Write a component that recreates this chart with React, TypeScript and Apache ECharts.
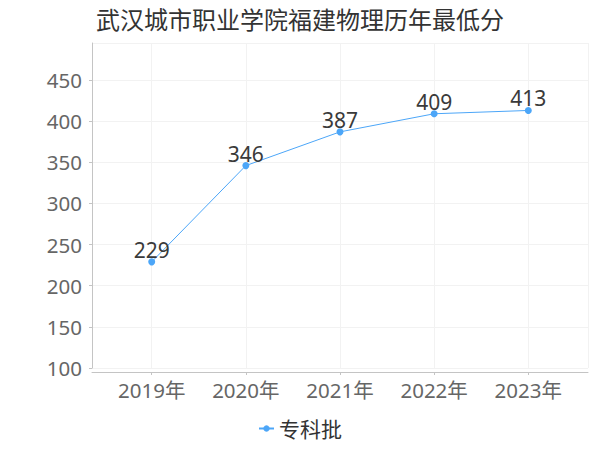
import React, { useEffect, useRef } from "react";
import * as echarts from "echarts";

const title = "武汉城市职业学院福建物理历年最低分";
const years = ["2019年", "2020年", "2021年", "2022年", "2023年"];
const seriesName = "专科批";
const scores = [229, 346, 387, 409, 413];
const yMin = 100;
const yMax = 495;
const yStep = 50;

const FONT = "'Noto Sans', 'Noto Sans CJK SC', sans-serif";
const AXIS_COLOR = "#c4c4c4";
const SPLIT_COLOR = "#f2f2f2";
const LINE_COLOR = "#4ca6f8";

export default function App() {
  const ref = useRef<HTMLDivElement>(null);
  useEffect(() => {
    document.body.style.margin = "0";
    if (!ref.current) return;
    const chart = echarts.init(ref.current, undefined, { renderer: "svg" });
    chart.setOption({
      animation: false,
      backgroundColor: "#ffffff",
      textStyle: { fontFamily: FONT },
      title: {
        text: title,
        left: "center",
        top: 2,
        textStyle: { fontSize: 24, fontWeight: "normal", color: "#333", fontFamily: FONT },
      },
      legend: {
        bottom: 6,
        left: "center",
        itemWidth: 15,
        itemHeight: 8,
        data: [seriesName],
        textStyle: { fontSize: 21, color: "#333", fontFamily: FONT },
      },
      grid: [
        { left: 92, right: 12, top: 43, bottom: 82 },
        { left: 151.7, right: 71.7, top: 43, bottom: 82 },
      ],
      xAxis: [
        {
          gridIndex: 0,
          type: "value",
          min: 0,
          max: 1,
          interval: 1,
          offset: 4,
          axisLine: { show: true, lineStyle: { color: AXIS_COLOR } },
          axisTick: { show: false },
          axisLabel: { show: false },
          splitLine: { show: true, lineStyle: { color: SPLIT_COLOR } },
        },
        {
          gridIndex: 1,
          type: "category",
          data: years,
          boundaryGap: false,
          offset: 4,
          axisLine: { show: false },
          axisTick: { show: true, length: 3, lineStyle: { color: AXIS_COLOR } },
          axisLabel: { fontSize: 20.5, color: "#666", margin: 8, fontFamily: FONT },
          splitLine: { show: true, lineStyle: { color: SPLIT_COLOR } },
        },
      ],
      yAxis: [
        {
          gridIndex: 0,
          type: "value",
          min: yMin,
          max: yMax,
          interval: yStep,
          offset: 2,
          axisLine: { show: true, lineStyle: { color: AXIS_COLOR } },
          axisTick: { show: true, length: 3, lineStyle: { color: AXIS_COLOR } },
          axisLabel: { fontSize: 20.5, color: "#666", margin: 8, showMaxLabel: false, fontFamily: FONT },
          splitLine: { show: true, lineStyle: { color: SPLIT_COLOR } },
        },
        {
          gridIndex: 1,
          type: "value",
          min: yMin,
          max: yMax,
          interval: yStep,
          show: false,
          splitLine: { show: false },
        },
      ],
      series: [
        {
          name: seriesName,
          type: "line",
          xAxisIndex: 1,
          yAxisIndex: 1,
          data: scores,
          symbol: "circle",
          symbolSize: 7,
          color: LINE_COLOR,
          lineStyle: { width: 1, color: LINE_COLOR },
          itemStyle: { color: LINE_COLOR },
          label: {
            show: true,
            position: "top",
            distance: -2,
            fontSize: 21,
            color: "#3a3a3a",
            fontFamily: FONT,
          },
        },
      ],
    });
    return () => chart.dispose();
  }, []);
  return <div ref={ref} style={{ width: 600, height: 450 }} />;
}
